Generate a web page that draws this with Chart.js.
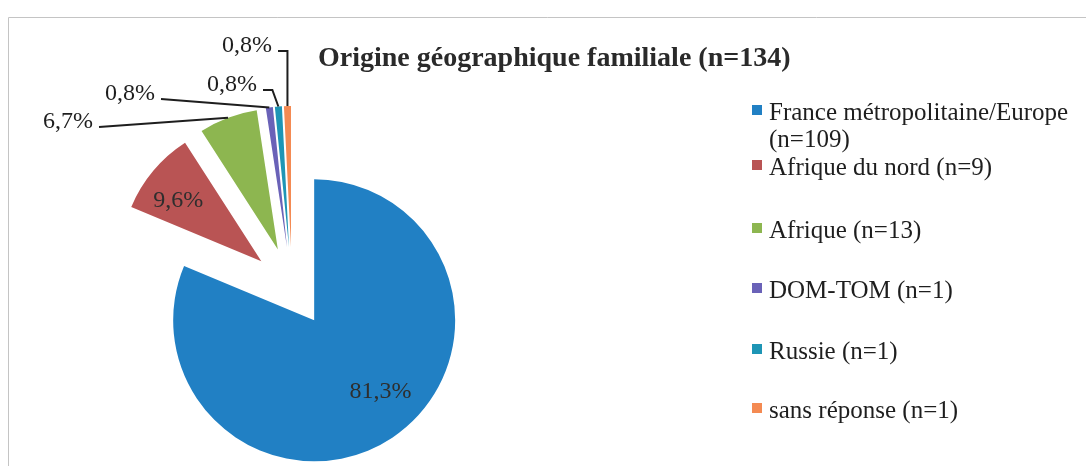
<!DOCTYPE html>
<html>
<head>
<meta charset="utf-8">
<script src="https://cdn.jsdelivr.net/npm/chart.js@4.4.1/dist/chart.umd.min.js"></script>
<style>
  html, body { margin: 0; padding: 0; background: #ffffff; }
  #wrap { position: relative; width: 1086px; height: 466px; overflow: hidden; }
</style>
</head>
<body>
<div id="wrap"><canvas id="c" width="1086" height="466"></canvas></div>
<script>
// ---- data ----
const chartTitle = "Origine géographique familiale (n=134)";
const categories = [
  ["France métropolitaine/Europe", "(n=109)"],
  "Afrique du nord (n=9)",
  "Afrique (n=13)",
  "DOM-TOM (n=1)",
  "Russie (n=1)",
  "sans réponse (n=1)"
];
const shares = [81.3, 9.6, 6.7, 0.8, 0.8, 0.8];
const shareLabels = ["81,3%", "9,6%", "6,7%", "0,8%", "0,8%", "0,8%"];
const sliceColors = ["#2180C4", "#B95454", "#8DB650", "#6A62B8", "#1E95B5", "#F48A52"];

// ---- layout / style (not data) ----
const PIE_RADIUS = 141;
const EXPLODE_PX = 40;   // every slice pulled out 40px along its mid-angle
const SERIF = '"Liberation Serif", "Times New Roman", serif';
const labelLayout = [
  { inside: true, frac: 0.69, dAng: -9.3 },
  { inside: true, frac: 0.73, dAng: -3.7 },
  { right: 93,  base: 128, elbow: null },
  { right: 155, base: 100, elbow: null },
  { right: 257, base: 91,  elbow: -6 },
  { right: 272, base: 52,  elbow: 0 }
];
const legendLayout = { markerX: 752, textX: 769, marker: 10, baselines: [120, 175, 238, 298, 359, 418], lineH: 27 };

// Explode slices: move each arc's centre outward along its mid-angle (Excel style),
// without the radius/angle shrinking that Chart.js' own `offset` applies.
const explodePlugin = {
  id: 'explode',
  afterDatasetUpdate(chart, args) {
    const meta = chart.getDatasetMeta(args.index);
    meta.data.forEach(arc => {
      const mid = (arc.startAngle + arc.endAngle) / 2;
      arc.x += Math.cos(mid) * EXPLODE_PX;
      arc.y += Math.sin(mid) * EXPLODE_PX;
    });
  }
};

const framePlugin = {
  id: 'frame',
  beforeDraw(chart) {
    const ctx = chart.ctx;
    ctx.save();
    ctx.strokeStyle = '#c4c4c4';
    ctx.lineWidth = 1;
    ctx.beginPath();
    ctx.moveTo(8.5, 17.5); ctx.lineTo(1086, 17.5);
    ctx.moveTo(8.5, 17.5); ctx.lineTo(8.5, 466);
    ctx.stroke();
    ctx.restore();
  }
};

const labelPlugin = {
  id: 'sliceLabels',
  afterDatasetsDraw(chart) {
    const ctx = chart.ctx;
    const meta = chart.getDatasetMeta(0);
    ctx.save();
    ctx.font = '24px ' + SERIF;
    meta.data.forEach((arc, i) => {
      const mid = (arc.startAngle + arc.endAngle) / 2;
      const r = arc.outerRadius;
      const L = labelLayout[i];
      const txt = shareLabels[i];
      if (L.inside) {
        const a = mid + L.dAng * Math.PI / 180;
        const x = arc.x + Math.cos(a) * r * L.frac;
        const y = arc.y + Math.sin(a) * r * L.frac;
        ctx.fillStyle = '#2e2e2e';
        ctx.textAlign = 'center';
        ctx.textBaseline = 'middle';
        ctx.fillText(txt, x, y);
      } else {
        ctx.fillStyle = '#1e1e1e';
        ctx.textAlign = 'right';
        ctx.textBaseline = 'alphabetic';
        ctx.fillText(txt, L.right, L.base);
        const ex = arc.x + Math.cos(mid) * r;
        const ey = arc.y + Math.sin(mid) * r;
        const sx = L.right + 6, sy = L.base - 1;
        ctx.strokeStyle = '#1e1e1e';
        ctx.lineWidth = 2;
        ctx.beginPath();
        ctx.moveTo(sx, sy);
        if (L.elbow !== null) ctx.lineTo(ex + L.elbow, sy);
        ctx.lineTo(ex, ey);
        ctx.stroke();
      }
    });
    ctx.restore();
  }
};

const legendPlugin = {
  id: 'sideLegend',
  afterDraw(chart) {
    const ctx = chart.ctx;
    ctx.save();
    ctx.fillStyle = '#2a2a2a';
    ctx.font = 'bold 28px ' + SERIF;
    ctx.textAlign = 'left';
    ctx.textBaseline = 'alphabetic';
    ctx.fillText(chartTitle, 318, 66);
    ctx.font = '25px ' + SERIF;
    chart.data.labels.forEach((lab, i) => {
      const base = legendLayout.baselines[i];
      const lines = Array.isArray(lab) ? lab : [lab];
      ctx.fillStyle = sliceColors[i];
      ctx.fillRect(legendLayout.markerX, base - 10 - legendLayout.marker / 2, legendLayout.marker, legendLayout.marker);
      ctx.fillStyle = '#1e1e1e';
      lines.forEach((ln, k) => ctx.fillText(ln, legendLayout.textX, base + k * legendLayout.lineH));
    });
    ctx.restore();
  }
};

new Chart(document.getElementById('c').getContext('2d'), {
  type: 'pie',
  data: {
    labels: categories,
    datasets: [{
      data: shares,
      backgroundColor: sliceColors,
      borderWidth: 0,
      offset: 0,
      hoverOffset: 0,
      radius: PIE_RADIUS,
      clip: false
    }]
  },
  options: {
    responsive: false,
    animation: false,
    events: [],
    rotation: 0,
    radius: PIE_RADIUS,
    layout: { padding: { left: 0, right: 502, top: 108, bottom: 0 } },
    plugins: {
      legend: { display: false },
      title: { display: false },
      tooltip: { enabled: false }
    }
  },
  plugins: [framePlugin, explodePlugin, labelPlugin, legendPlugin]
});
</script>
</body>
</html>
